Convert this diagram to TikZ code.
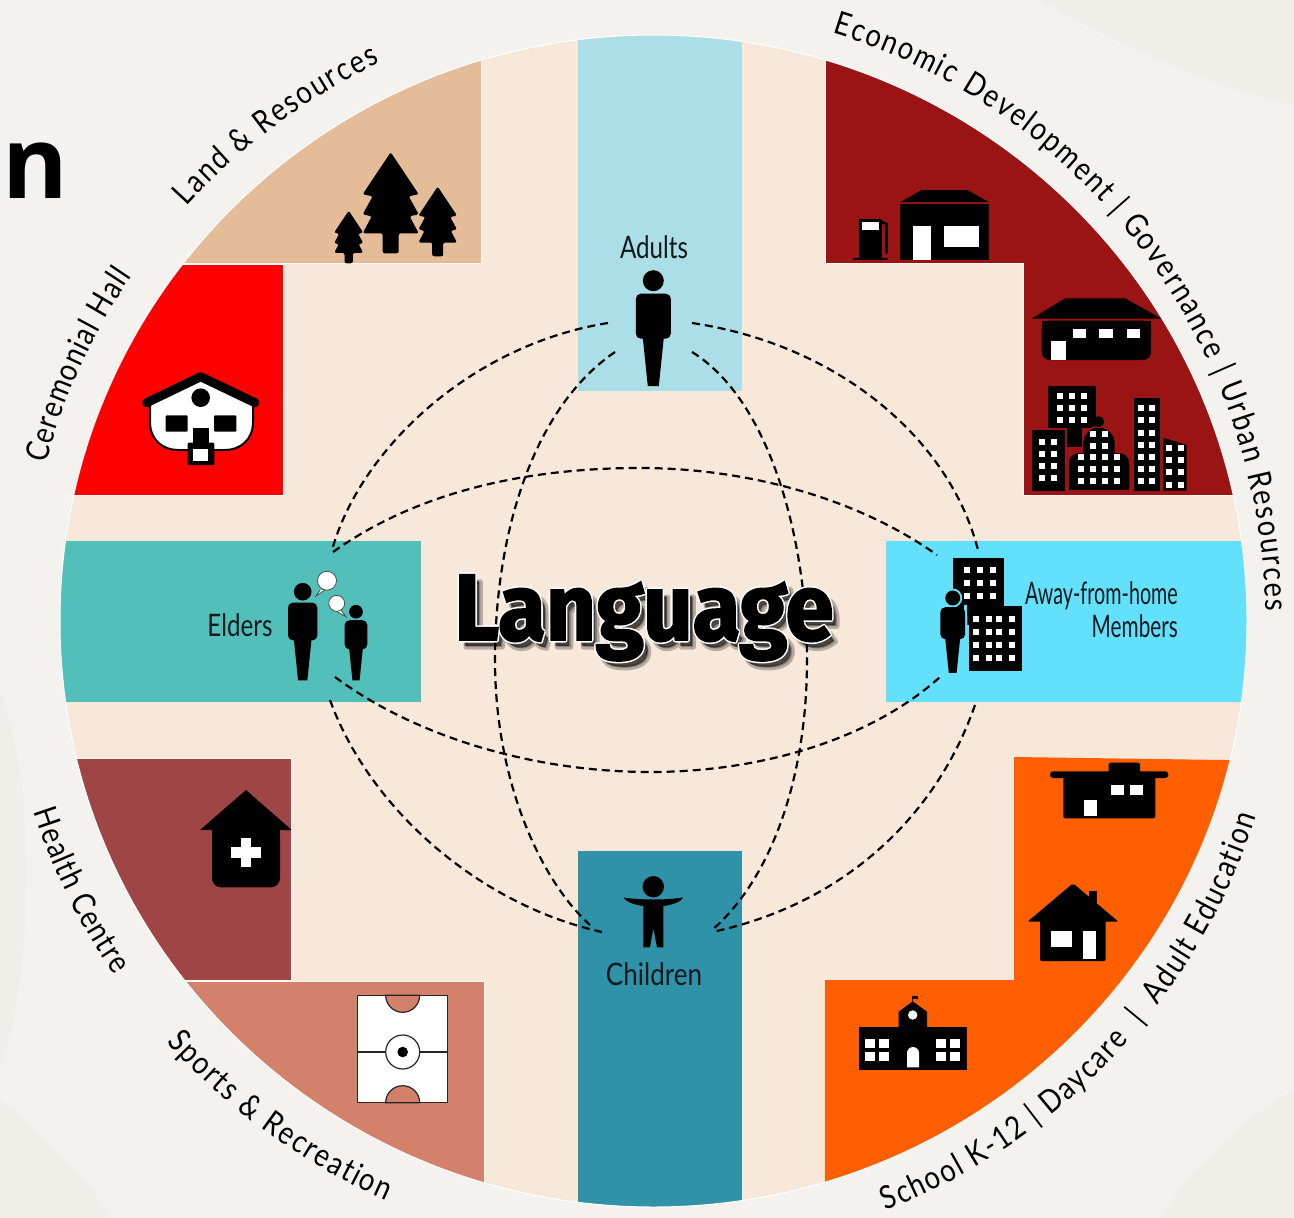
\documentclass[tikz,border=0pt]{standalone}
\usepackage{fontspec}
\usetikzlibrary{decorations.text}
\newfontfamily\curvefam[FakeStretch=0.85]{Lato}
\newfontfamily\boxfam[FakeStretch=0.78]{Lato}
\newfontfamily\boxwidefam[FakeStretch=0.84]{Lato}
\newfontfamily\boxnarrowfam[FakeStretch=0.67]{Lato}
\newfontfamily\boxawayfam[FakeStretch=0.637]{Lato}
\newfontfamily\langfam[FakeStretch=0.925,FakeBold=2]{Fira Sans Bold}
\newfontfamily\langplainfam[FakeStretch=0.925]{Fira Sans Bold}
\newfontfamily\cornerfam{Open Sans Bold}
\newcommand{\curvetxt}{\curvefam\fontsize{32}{34}\selectfont}
\definecolor{paper}{HTML}{F4F2EE}
\definecolor{paperb}{HTML}{F0EEE8}
\definecolor{disc}{HTML}{F7E8DA}
\definecolor{adultc}{HTML}{ACDEE8}
\definecolor{childc}{HTML}{2F92A8}
\definecolor{elderc}{HTML}{52BFBB}
\definecolor{awayc}{HTML}{62E0FC}
\definecolor{econc}{HTML}{9B1414}
\definecolor{landc}{HTML}{E4BC98}
\definecolor{healthc}{HTML}{A04545}
\definecolor{sportc}{HTML}{D3816B}
\definecolor{schoolc}{HTML}{FF5F00}
\definecolor{inkc}{HTML}{0E1A1E}
\newcommand{\win}[2]{\fill[white] (#1-3,#2-3) rectangle (#1+3,#2+3);}
\tikzset{
  quad/.style={draw=white!70!disc,line width=0.8pt},
  sil/.style={fill=black},
  glass/.style={fill=white},
  boxlabel/.style={font=\boxfam\fontsize{31}{32}\selectfont,text=inkc,inner sep=0pt},
  link/.style={draw=black,line width=2.2pt,dash pattern=on 8pt off 5pt},
  bubble/.style={fill=white,draw=black!70,line width=0.8pt},
  curved/.style={decorate,decoration={text along path,text align={fit to path},raise=0pt}},
  langtext/.style={font=\langplainfam\fontsize{94}{94}\selectfont,anchor=base,inner sep=0pt},
  pics/personicon/.style={code={
    \fill (0,0) circle (10.5);
    \fill[rounded corners=5pt] (-17.5,13) rectangle (17.5,58);
    \fill (-10.5,57) -- (10.5,57) -- (5.5,105.5) -- (-5.5,105.5) -- cycle;
  }},
  pics/treeicon/.style={code={
    \fill[rounded corners=2pt] (0,-1) -- (28,41) -- (18,43) -- (28,61) -- (19,63) -- (28,80) -- (8,80) -- (8,100) -- (-8,100) -- (-8,80) -- (-28,80) -- (-19,63) -- (-28,61) -- (-18,43) -- (-28,41) -- cycle;
  }}
}
\begin{document}
\begin{tikzpicture}[x=1pt,y=-1pt]
\useasboundingbox (0,0) rectangle (1294,1218);
\fill[paper] (0,0) rectangle (1294,1218);
% faint swirls of the backdrop
\fill[paperb] (1040,0) .. controls (1130,50) and (1220,90) .. (1294,105) -- (1294,0) -- cycle;
\fill[paperb] (0,690) .. controls (40,800) and (30,980) .. (0,1070) -- cycle;
\fill[paperb] (1294,1090) .. controls (1240,1120) and (1190,1170) .. (1160,1218) -- (1294,1218) -- cycle;
\fill[paperb] (0,1100) .. controls (40,1130) and (90,1180) .. (110,1218) -- (0,1218) -- cycle;
% disc
\fill[disc] (653.5,621) ellipse [x radius=593.5,y radius=586];
\begin{scope}
\clip (653.5,621) ellipse [x radius=593.5,y radius=586];
\fill[adultc] (578,30) rectangle (742,391);
\fill[childc] (578,851) rectangle (742,1212);
\fill[elderc] (50,541) rectangle (421,702);
\fill[awayc] (886,541) rectangle (1255,702);
\fill[econc,quad] (825,0) -- (825,263) -- (1023,263) -- (1023,495) -- (1260,495) -- (1260,0) -- cycle;
\fill[landc,quad] (90,0) rectangle (481,263);
\fill[red,quad] (40,264) rectangle (283,495);
\fill[healthc,quad] (40,758) rectangle (291,980);
\fill[sportc,quad] (90,981) rectangle (484,1225);
\fill[schoolc] (825,1225) -- (825,980) -- (1014,980) -- (1014,757) -- (1260,760.5) -- (1260,1225) -- cycle;
\end{scope}
\draw[white,line width=1pt] (653.5,621) ellipse [x radius=593.5,y radius=586];
% curved labels
\path[curved,decoration={text={|\curvetxt|Economic Development {|} Governance {|} Urban Resources}}]
  (653.5,621) ++(-73:612 and 615) arc[start angle=-73,end angle=-1,x radius=612,y radius=615];
\path[curved,decoration={text={|\curvetxt|Land {\&} Resources}}]
  (653.5,621) ++(222:628 and 620) arc[start angle=222,end angle=244.2,x radius=628,y radius=620];
\path[curved,decoration={text={|\curvetxt|Ceremonial Hall}}]
  (653.5,621) ++(194.7:628 and 620) arc[start angle=194.7,end angle=213.8,x radius=628,y radius=620];
\path[curved,decoration={text={|\curvetxt|Health Centre}}]
  (653.5,621) ++(162.5:650 and 634) arc[start angle=162.5,end angle=146,x radius=650,y radius=634];
\path[curved,decoration={text={|\curvetxt|Sports {\&} Recreation}}]
  (653.5,621) ++(138.5:650 and 636) arc[start angle=138.5,end angle=114.3,x radius=650,y radius=636];
\path[curved,decoration={text={|\curvetxt|School K-12 {|}{~}Daycare{~} {|} {~}Adult Education}}]
  (653.5,621) ++(68.5:634 and 634) arc[start angle=68.5,end angle=18,x radius=634,y radius=634];
% corner letter
\node[font=\cornerfam\fontsize{100}{100}\selectfont,anchor=base west,inner sep=0pt] (cornerletter) at (2,198) {n};
% connector ends
\coordinate (adL) at (608,323); \coordinate (adR) at (692,323);
\coordinate (adLi) at (615,352); \coordinate (adRi) at (692,352);
\coordinate (elT) at (332,550); \coordinate (elB) at (330,700);
\coordinate (elTi) at (333,552); \coordinate (elBi) at (335,677);
\coordinate (awT) at (978,550); \coordinate (awB) at (975,705);
\coordinate (awTi) at (937,555); \coordinate (awBi) at (940,677);
\coordinate (chL) at (602,932); \coordinate (chR) at (712,932);
\coordinate (chLi) at (590,925); \coordinate (chRi) at (712,930);
\draw[link] (adL) .. controls (470,345) and (360,450) .. (elT);
\draw[link] (adR) .. controls (840,345) and (950,440) .. (awT);
\draw[link] (elB) .. controls (370,810) and (480,905) .. (chL);
\draw[link] (awB) .. controls (935,820) and (840,905) .. (chR);
\draw[link] (adLi) .. controls (530,410) and (495,540) .. (495,660) .. controls (495,780) and (540,880) .. (chLi);
\draw[link] (adRi) .. controls (770,400) and (807,540) .. (807,660) .. controls (807,780) and (770,880) .. (chRi);
\draw[link] (elTi) .. controls (420,490) and (530,468) .. (640,468) .. controls (750,468) and (860,500) .. (awTi);
\draw[link] (elBi) .. controls (420,740) and (540,772) .. (650,772) .. controls (760,772) and (870,740) .. (awBi);
% box labels
\node[boxlabel] (adults) at (654,247) {Adults};
\node[boxlabel] (elders) at (240,625) {Elders};
\node[boxlabel,font=\boxwidefam\fontsize{31}{32}\selectfont] (children) at (654,974) {Children};
\node[boxlabel,font=\boxnarrowfam\fontsize{31}{32}\selectfont,align=right,anchor=east] (away) at (1178,610) {{\boxawayfam Away-from-home}\\[1pt]Members};
% Language: blurred shadow, white halo, black face
\node[langtext,text=black,opacity=.25] at (650,647) {\special{pdf:code 2 Tr 5 w 0 0 0 RG 1 j}Language\special{pdf:code 0 Tr}};
\node[langtext,text=black,opacity=.6] at (649,646) {Language};
\node[langtext,text=white] at (644,640) {\special{pdf:code 2 Tr 5 w 1 1 1 RG 1 j}Language\special{pdf:code 0 Tr}};
\node[langtext,font=\langfam\fontsize{94}{94}\selectfont] (language) at (644,640) {Language};
% people
\pic[sil] at (653.3,280.7) {personicon};
\pic[sil,scale=.84] at (302.7,591.7) {personicon};
\pic[sil,scale=.65] at (356,611.7) {personicon};
\draw[bubble] (320,590) -- (316,596) -- (325,590);
\fill[bubble] (327,580.7) circle (9.5);
\draw[bubble] (341,610) -- (346,616.7) -- (336,611);
\fill[bubble] (336.7,603.3) circle (8);
% children figure
\fill (653.3,886.7) circle (10.7);
\fill (623.3,897.5) .. controls (633,899) and (645,899.5) .. (653.3,899.5) .. controls (662,899.5) and (674,899) .. (683.3,897.5) .. controls (681,902) and (672,905) .. (663.3,906) -- (663.3,947.3) -- (657,947.3) -- (653.3,928.3) -- (650,947.3) -- (643.3,947.3) -- (643.3,906) .. controls (635,905) and (626,902) .. cycle;
% away-from-home
\fill (952.7,557.7) rectangle (1004.3,625);
\foreach \x in {967,979.7,992.7}{\foreach \y in {570,583,596}{\win{\x}{\y}}}
\fill (969,605.7) rectangle (1022,670.7);
\foreach \x in {976.3,989,999,1012}{\foreach \y in {618.7,631.7,644.7,658}{\win{\x}{\y}}}
\draw[awayc,line width=3pt,rounded corners=3pt] (965.5,605) -- (967,671);
\fill[awayc] (952.7,598) circle (9.5);
\pic[sil,scale=.71] at (952.7,598) {personicon};
% fuel station
\fill (900,204) rectangle (989.3,260.3);
\fill (900.7,202) -- (921.7,190) -- (967.3,190) -- (988.7,202) -- cycle;
\fill[glass] (912.7,225.7) rectangle (930.7,260.3);
\fill[glass] (944.3,225.7) rectangle (978.7,247.3);
\fill (859,219) rectangle (882.3,259.3);
\fill[glass] (861.7,222.3) rectangle (879.3,230.3);
\fill (853.3,258) rectangle (888,260.3);
\draw[line width=2.5pt,line cap=round] (882,222) -- (886.5,224) -- (886.5,253);
% office
\fill (1031.7,318.7) -- (1065,298.3) -- (1125,298.3) -- (1161.7,318.7) -- cycle;
\fill[rounded corners=8pt] (1041.7,320.7) -- (1041.7,360) -- (1151,360) -- (1151,320.7) -- cycle;
\fill (1041.7,320.7) rectangle (1151,335);
\foreach \x/\w in {1072.7/1085.7,1099.3/1112.7,1126.7/1140}{\fill[glass] (\x,328.7) rectangle (\w,338.3);}
\fill[glass] (1051.3,340.7) rectangle (1066.3,360);
% city
\fill (1048.3,385.7) rectangle (1096.3,428);
\fill (1066.7,428) rectangle (1081.7,447);
\foreach \x in {1060,1072,1084.3}{\foreach \y in {396,408,420.3}{\win{\x}{\y}}}
\fill (1031.7,430) rectangle (1064.7,490.7);
\foreach \x in {1042,1054}{\foreach \y in {441.7,453.7,466,478}{\win{\x}{\y}}}
\draw[econc,line width=1.5pt,fill=black] (1068,490.7) -- (1068,463) arc[start angle=180,end angle=270,x radius=11,y radius=11] -- (1082.7,452) -- (1082.7,443) .. controls (1082.7,434) and (1088,430) .. (1094,427) -- (1103,427) .. controls (1110,430) and (1115.3,434) .. (1115.3,443) -- (1115.3,452) -- (1119,452) arc[start angle=270,end angle=360,x radius=11,y radius=11] -- (1130,490.7) -- cycle;
\fill (1098.7,421.7) circle (5.5);
\foreach \x in {1093,1105}{\foreach \y in {433.7,445.7}{\win{\x}{\y}}}
\foreach \x in {1081,1093,1105,1117}{\foreach \y in {457,469.3,481.3}{\win{\x}{\y}}}
\fill (1133.7,398) rectangle (1159.7,490.7);
\foreach \x in {1140.7,1152.3}{\foreach \y in {408.3,420.3,432.7,444.7,457,469.3,481.3}{\win{\x}{\y}}}
\fill (1163.3,437.7) -- (1186.7,445) -- (1186.7,490.7) -- (1163.3,490.7) -- cycle;
\foreach \x in {1169,1181}{\foreach \y in {448,460.3,472.3,484.7}{\win{\x}{\y}}}
% daycare
\fill[rounded corners=3pt] (1050,771.3) rectangle (1168.3,778);
\fill[rounded corners=2pt] (1108.7,762.7) rectangle (1140,773);
\fill[rounded corners=2pt] (1063.3,775) rectangle (1155.3,818.3);
\fill[glass] (1110.7,785.3) rectangle (1124,795);
\fill[glass] (1129.7,785.3) rectangle (1143.3,795);
\fill[glass] (1083.7,800) rectangle (1097,816);
% house
\fill (1089.3,891.3) rectangle (1097,905);
\fill[rounded corners=2pt] (1073,883.3) -- (1118.5,921.7) -- (1027.5,921.7) -- cycle;
\fill[rounded corners=2pt] (1040,918) rectangle (1105.7,961);
\fill[glass] (1051,931) rectangle (1071.7,946.7);
\fill[glass] (1082.7,931) rectangle (1096.3,959);
% school
\fill (859.3,1027.3) rectangle (966.7,1070);
\fill (898.7,1028) -- (898.7,1011.7) -- (912.7,1001.3) -- (927,1011.7) -- (927,1028) -- cycle;
\draw[line width=.8pt] (912.7,1002) -- (912.7,995.7);
\fill (912.7,995.5) rectangle (917.5,998.5);
\fill[glass] (912.7,1015) circle (4.7);
\fill[glass] (907,1067.3) -- (907,1053) arc[start angle=180,end angle=360,radius=6] -- (919,1067.3) -- cycle;
\foreach \x in {865.3,879.3,936.3,950.3}{\foreach \y in {1039,1051.7}{\fill[glass] (\x,\y) rectangle (\x+9.4,\y+9.4);}}
% trees
\pic[sil] at (390.7,153.3) {treeicon};
\pic[sil,scale=.69] at (437.7,187.3) {treeicon};
\pic[sil,scale=.52] at (348.7,211.3) {treeicon};
% ceremonial hall
\fill[white,draw=black,line width=2pt] (150,402) -- (200.7,378) -- (253,402) -- (253,422) .. controls (253,440) and (240,450) .. (225,450) -- (178,450) .. controls (163,450) and (150,440) .. (150,422) -- cycle;
\draw[line width=9pt,line cap=round,line join=round] (146.7,402.7) -- (200.7,376.7) -- (255,402.7);
\fill (200.7,397.7) circle (9.3);
\fill[rounded corners=1pt] (165.7,415.3) rectangle (187.7,431.7);
\fill[rounded corners=1pt] (214,415.3) rectangle (236.3,431.7);
\fill (192.7,428.3) rectangle (209.3,445);
\fill[rounded corners=1pt] (187.7,442.7) rectangle (214.3,465);
\fill[glass] (193.3,449.3) rectangle (208.3,460.7);
% health
\fill (246,790) -- (291.7,830) -- (200,830) -- cycle;
\fill[rounded corners=9pt] (212,829) -- (212,887.3) -- (280,887.3) -- (280,829) -- cycle;
\fill (212,829) rectangle (280,850);
\fill[glass] (231.3,847) rectangle (260.7,857.7);
\fill[glass] (240.7,837.7) rectangle (251.3,867);
% pitch
\draw[fill=white,line width=1.4pt,draw=black!85] (357.7,995.3) rectangle (447.7,1102.7);
\draw[line width=1.2pt,draw=black!85] (357.7,1052) -- (447.7,1052);
\draw[fill=white,line width=1.2pt,draw=black!85] (402.7,1052) circle (17);
\fill (402.7,1052) circle (5.3);
\draw[fill=sportc,line width=1.2pt,draw=black!85] (385.7,995.3) arc[start angle=180,end angle=0,radius=17] -- cycle;
\draw[fill=sportc,line width=1.2pt,draw=black!85] (385.7,1102.7) arc[start angle=180,end angle=360,radius=17] -- cycle;
\end{tikzpicture}
\end{document}
